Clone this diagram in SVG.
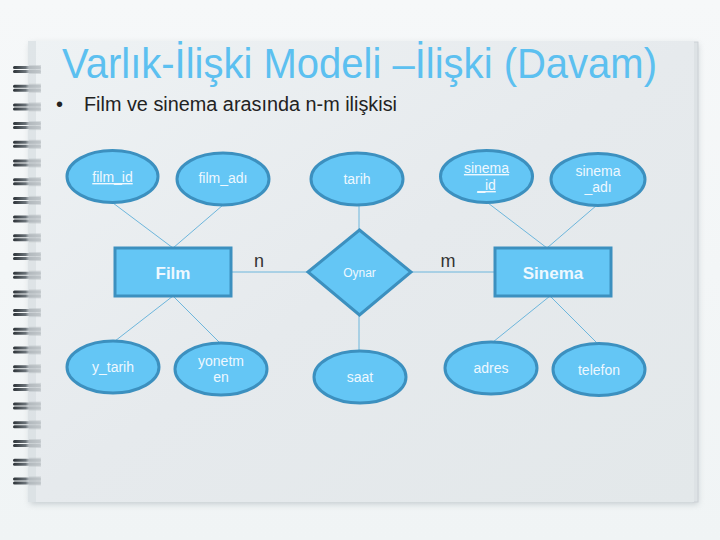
<svg xmlns="http://www.w3.org/2000/svg" width="720" height="540" viewBox="0 0 720 540">
<defs>
  <linearGradient id="bg" x1="0" y1="0" x2="0" y2="1">
    <stop offset="0" stop-color="#f6f8f9"/>
    <stop offset="1" stop-color="#f0f4f5"/>
  </linearGradient>
  <linearGradient id="page" x1="0" y1="0" x2="1" y2="1">
    <stop offset="0" stop-color="#eef2f4"/>
    <stop offset="0.5" stop-color="#e6eaed"/>
    <stop offset="1" stop-color="#e3e8ea"/>
  </linearGradient>
  <linearGradient id="ring" x1="0" y1="0" x2="1" y2="0">
    <stop offset="0" stop-color="#2b3136"/>
    <stop offset="0.45" stop-color="#6c747a"/>
    <stop offset="0.55" stop-color="#a9b0b5"/>
    <stop offset="1" stop-color="#c9cfd2"/>
  </linearGradient>
  <filter id="sh" x="-5%" y="-5%" width="110%" height="112%">
    <feGaussianBlur stdDeviation="3"/>
  </filter>
  <g id="r">
    <rect x="13" y="-3" width="28" height="3" rx="1.5" fill="url(#ring)"/>
    <rect x="13" y="1" width="28" height="3" rx="1.5" fill="url(#ring)"/>
    <rect x="29" y="-4" width="12" height="9" fill="#b9c0c4" opacity="0.5"/>
  </g>
</defs>
<style>
  .ent ellipse, .ent rect, .ent polygon { fill: #64c6f5; stroke: #3c90bf; stroke-width: 3; }
  .t { font-family: "Liberation Sans", Arial, sans-serif; fill: #eef8ff; text-anchor: middle; font-size: 14px; }
  .b { font-size: 17px; font-weight: bold; }
  .s { font-size: 12px; }
  .u { text-decoration: underline; }
  .conn line { stroke: #6db6dc; stroke-width: 1; }
  .card { font-family: "Liberation Sans", Arial, sans-serif; fill: #333; font-size: 18px; }
</style>
<rect width="720" height="540" fill="url(#bg)"/>
<rect x="30" y="44" width="668" height="460" fill="#9aa4aa" opacity="0.5" filter="url(#sh)"/>
<rect x="693" y="42" width="5" height="460" fill="#dde2e5" stroke="#c8ced2" stroke-width="0.8"/>
<rect x="28" y="41" width="666" height="461" fill="url(#page)"/>
<rect x="28" y="41" width="8" height="461" fill="#d6dcdf" opacity="0.6"/>
<g id="spiral">
  <use href="#r" y="69"/><use href="#r" y="87.7"/><use href="#r" y="106.4"/><use href="#r" y="125.1"/>
  <use href="#r" y="143.8"/><use href="#r" y="162.5"/><use href="#r" y="181.2"/><use href="#r" y="199.9"/>
  <use href="#r" y="218.6"/><use href="#r" y="237.3"/><use href="#r" y="256"/><use href="#r" y="274.7"/>
  <use href="#r" y="293.4"/><use href="#r" y="312.1"/><use href="#r" y="330.8"/><use href="#r" y="349.5"/>
  <use href="#r" y="368.2"/><use href="#r" y="386.9"/><use href="#r" y="405.6"/><use href="#r" y="424.3"/>
  <use href="#r" y="443"/><use href="#r" y="461.7"/><use href="#r" y="480.4"/>
</g>
<text x="62" y="78" font-family="Liberation Sans, Arial, sans-serif" font-size="42" fill="#5cc0f0" textLength="595" lengthAdjust="spacingAndGlyphs">Varlık-İlişki Modeli –İlişki (Davam)</text>
<text x="56" y="111" font-family="Liberation Sans, Arial, sans-serif" font-size="20" fill="#222">•</text>
<text x="84" y="111" font-family="Liberation Sans, Arial, sans-serif" font-size="20" fill="#222" textLength="313" lengthAdjust="spacingAndGlyphs">Film ve sinema arasında n-m ilişkisi</text>

<g class="conn">
  <line x1="113" y1="203" x2="173" y2="248"/>
  <line x1="223" y1="205" x2="173" y2="248"/>
  <line x1="173" y1="296" x2="115" y2="341"/>
  <line x1="173" y1="296" x2="220" y2="343"/>
  <line x1="231" y1="272" x2="308" y2="272" stroke-width="1.4"/>
  <line x1="359" y1="205" x2="359" y2="230"/>
  <line x1="359" y1="315" x2="359" y2="351"/>
  <line x1="411" y1="272" x2="495" y2="272" stroke-width="1.4"/>
  <line x1="488" y1="203" x2="547" y2="248"/>
  <line x1="597" y1="205" x2="547" y2="248"/>
  <line x1="550" y1="296" x2="493" y2="342"/>
  <line x1="550" y1="296" x2="597" y2="343"/>
</g>
<text class="card" x="259" y="267" text-anchor="middle">n</text>
<text class="card" x="448" y="267" text-anchor="middle">m</text>

<g id="film_id" class="ent"><ellipse cx="112.5" cy="176.5" rx="45.5" ry="26"/><text class="t u" x="112.5" y="182">film_id</text></g>
<g id="film_adi" class="ent"><ellipse cx="223" cy="179" rx="46" ry="26"/><text class="t" x="223" y="183">film_adı</text></g>
<g id="film" class="ent"><rect x="115" y="248" width="116" height="48"/><text class="t b" x="173" y="279">Film</text></g>
<g id="y_tarih" class="ent"><ellipse cx="113" cy="367" rx="46" ry="26"/><text class="t" x="113" y="372">y_tarih</text></g>
<g id="yonetmen" class="ent"><ellipse cx="221" cy="369" rx="46" ry="26"/><text class="t" x="221" y="366">yonetm</text><text class="t" x="221" y="382">en</text></g>
<g id="tarih" class="ent"><ellipse cx="357" cy="179" rx="46" ry="26"/><text class="t" x="357" y="184">tarih</text></g>
<g id="oynar" class="ent"><polygon points="308,272 359.5,230 411,272 359.5,315"/><text class="t s" x="359.5" y="277">Oynar</text></g>
<g id="saat" class="ent"><ellipse cx="360" cy="377" rx="46" ry="26"/><text class="t" x="360" y="382">saat</text></g>
<g id="sinema_id" class="ent"><ellipse cx="486.5" cy="176.5" rx="46" ry="26"/><text class="t u" x="486.5" y="173">sinema</text><text class="t u" x="486.5" y="190">_id</text></g>
<g id="sinema_adi" class="ent"><ellipse cx="598" cy="179.5" rx="47" ry="26"/><text class="t" x="598" y="176">sinema</text><text class="t" x="598" y="192">_adı</text></g>
<g id="sinema" class="ent"><rect x="495" y="248" width="116" height="48"/><text class="t b" x="553" y="279">Sinema</text></g>
<g id="adres" class="ent"><ellipse cx="491" cy="368" rx="46" ry="26"/><text class="t" x="491" y="373">adres</text></g>
<g id="telefon" class="ent"><ellipse cx="599" cy="369.5" rx="46" ry="26"/><text class="t" x="599" y="375">telefon</text></g>
</svg>
